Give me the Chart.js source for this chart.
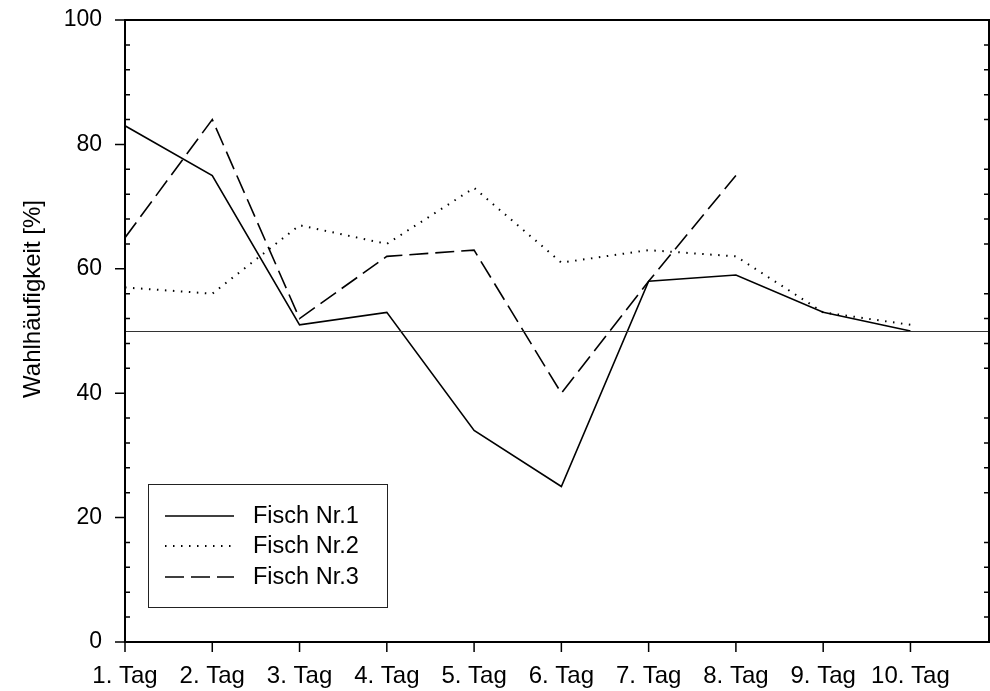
<!DOCTYPE html>
<html>
<head>
<meta charset="utf-8">
<script src="https://cdn.jsdelivr.net/npm/chart.js@4"></script>
<style>
  html, body { margin: 0; padding: 0; background: #fff; }
  #wrap { width: 990px; height: 691px; }
</style>
</head>
<body>
<div id="wrap"><canvas id="myChart" width="990" height="691"></canvas></div>
<script>
const tage = ['1. Tag', '2. Tag', '3. Tag', '4. Tag', '5. Tag', '6. Tag', '7. Tag', '8. Tag', '9. Tag', '10. Tag'];
const fisch1 = [83, 75, 51, 53, 34, 25, 58, 59, 53, 50];
const fisch2 = [57, 56, 67, 64, 73, 61, 63, 62, 53, 51];
const fisch3 = [65, 84, 52, 62, 63, 40, 58, 75];
const yTicks = [0, 20, 40, 60, 80, 100];
const refLine = 50;
const yTitle = 'Wahlhäufigkeit [%]';

const FONT = '"Liberation Sans", Arial, Helvetica, sans-serif';
Chart.defaults.font.family = FONT;
Chart.defaults.color = '#000';

const toPoints = arr => arr.map((v, i) => ({ x: i, y: v }));

// frame, tick marks, 50%-line, axis title and legend box
const decor = {
    id: 'decor',
    afterDatasetsDraw(chart) {
        const { ctx, chartArea: a, scales: { x, y } } = chart;
        ctx.save();

        // Referenzlinie
        ctx.lineWidth = 1;
        ctx.strokeStyle = '#333';
        const yr = Math.round(y.getPixelForValue(refLine)) + 0.5;
        ctx.beginPath();
        ctx.moveTo(a.left, yr);
        ctx.lineTo(a.right, yr);
        ctx.stroke();

        // Rahmen
        ctx.strokeStyle = '#000';
        ctx.lineWidth = 2;
        ctx.strokeRect(a.left, a.top, a.right - a.left, a.bottom - a.top);

        // y ticks
        ctx.lineWidth = 1.5;
        ctx.beginPath();
        for (let v = 0; v <= 100; v += 4) {
            const py = y.getPixelForValue(v);
            if (yTicks.includes(v)) {
                ctx.moveTo(a.left - 10, py); ctx.lineTo(a.left, py);
                ctx.moveTo(a.right, py); ctx.lineTo(a.right + 10, py);
            } else {
                ctx.moveTo(a.left, py); ctx.lineTo(a.left + 5, py);
                ctx.moveTo(a.right - 5, py); ctx.lineTo(a.right, py);
            }
        }
        // x ticks
        tage.forEach((t, i) => {
            const px = x.getPixelForValue(i);
            ctx.moveTo(px, a.bottom); ctx.lineTo(px, a.bottom + 10);
        });
        ctx.stroke();

        // y title (sits a bit above the axis centre in the original)
        ctx.save();
        ctx.translate(33, 299);
        ctx.rotate(-Math.PI / 2);
        ctx.fillStyle = '#000';
        ctx.font = '24px ' + FONT;
        ctx.textAlign = 'center';
        ctx.textBaseline = 'middle';
        ctx.fillText(yTitle, 0, 0);
        ctx.restore();

        // Legende
        ctx.lineWidth = 1;
        ctx.strokeStyle = '#222';
        ctx.strokeRect(148.5, 484.5, 239, 123);
        const rows = [516, 546, 577];
        chart.data.datasets.forEach((ds, i) => {
            ctx.beginPath();
            ctx.lineWidth = ds.borderWidth;
            ctx.strokeStyle = '#000';
            ctx.setLineDash(ds.borderDash || []);
            ctx.moveTo(165, rows[i]);
            ctx.lineTo(234, rows[i]);
            ctx.stroke();
            ctx.setLineDash([]);
            ctx.fillStyle = '#000';
            ctx.font = '23.5px ' + FONT;
            ctx.textBaseline = 'middle';
            ctx.textAlign = 'left';
            ctx.fillText(ds.label, 253, rows[i] + 1);
        });
        ctx.restore();
    }
};

const ctx = document.getElementById('myChart').getContext('2d');
const myChart = new Chart(ctx, {
    type: 'line',
    data: {
        datasets: [{
            label: 'Fisch Nr.1',
            data: toPoints(fisch1),
            borderColor: '#000',
            borderWidth: 1.6,
            pointRadius: 0
        }, {
            label: 'Fisch Nr.2',
            data: toPoints(fisch2),
            borderColor: '#000',
            borderWidth: 2,
            borderDash: [1.5, 6.5],
            pointRadius: 0
        }, {
            label: 'Fisch Nr.3',
            data: toPoints(fisch3),
            borderColor: '#000',
            borderWidth: 1.6,
            borderDash: [19, 7],
            pointRadius: 0
        }]
    },
    options: {
        responsive: false,
        animation: false,
        events: [],
        layout: { padding: { top: 20, right: 1, left: 0, bottom: 0 } },
        plugins: { legend: { display: false }, tooltip: { enabled: false } },
        scales: {
            x: {
                type: 'linear',
                min: 0,
                max: 9.9,
                grid: { display: false, drawTicks: false },
                border: { display: false },
                afterFit: s => { s.height = 49; s.paddingLeft = 0; s.paddingRight = 0; },
                ticks: {
                    stepSize: 1,
                    autoSkip: false,
                    maxRotation: 0,
                    padding: 20,
                    font: { size: 24 },
                    callback: v => (Number.isInteger(v) && tage[v]) ? tage[v] : ''
                }
            },
            y: {
                min: 0,
                max: 100,
                grid: { display: false, drawTicks: false },
                border: { display: false },
                afterFit: s => { s.width = 125; s.paddingTop = 0; s.paddingBottom = 0; },
                ticks: {
                    stepSize: 20,
                    padding: 23,
                    font: { size: 23 }
                }
            }
        }
    },
    plugins: [decor]
});
</script>
</body>
</html>
